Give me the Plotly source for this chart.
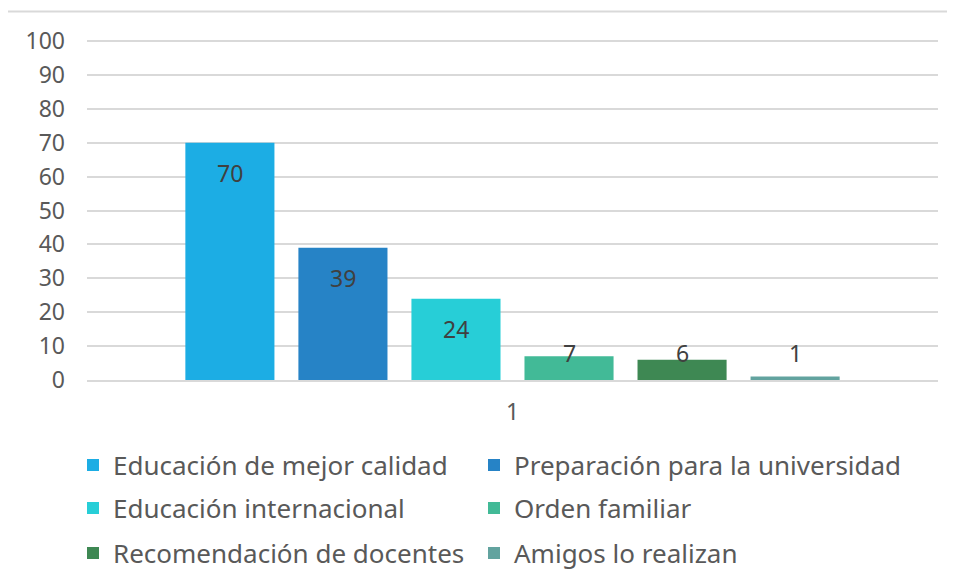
import plotly.graph_objects as go

categories = ["1"]
series_names = [
    "Educación de mejor calidad",
    "Preparación para la universidad",
    "Educación internacional",
    "Orden familiar",
    "Recomendación de docentes",
    "Amigos lo realizan",
]
series_values = [70, 39, 24, 7, 6, 1]
colors = ["#1CADE4", "#2683C6", "#27CED7", "#42BA97", "#3E8853", "#62A39F"]
y_ticks = [0, 10, 20, 30, 40, 50, 60, 70, 80, 90, 100]

OFF = 8  # page body margin
W, H = 955 - OFF, 583 - OFF
L, R, T, B = 87 - OFF, 17, 41 - OFF - 1, 203
pw, ph = W - L - R, H - T - B
FONT = "Noto Sans"
BARGAP = 0.203
GROUPGAP = 0.212
Y_MAX = 100.3

fig = go.Figure()
for k, (name, val, col) in enumerate(zip(series_names, series_values, colors)):
    fig.add_trace(go.Bar(
        x=categories, y=[val], name=name, marker_color=col,
        marker_line_width=0, legend="legend" if k == 0 else f"legend{k + 1}",
        hoverinfo="skip",
    ))

# data labels (Excel "inside end")
n = len(series_values)
slot = (1 - BARGAP) / n
for i, val in enumerate(series_values):
    xc = -(1 - BARGAP) / 2 + (i + 0.5) * slot
    if val * ph / 100 > 45:
        ann = dict(y=val, yanchor="top", yshift=-12)
    else:
        ann = dict(y=0, yanchor="bottom", yshift=9)
    fig.add_annotation(x=xc, xref="x", yref="y", text=str(val), showarrow=False,
                       font=dict(family=FONT, size=23, color="#404040"), **ann)


def px_x(x):
    return (x - OFF - L) / pw


def px_y(y):
    return (H - B - (y - OFF)) / ph


# outer chart border
fig.add_shape(type="rect", xref="paper", yref="paper",
              x0=px_x(7), x1=px_x(1000), y0=px_y(640), y1=px_y(11.5),
              line=dict(color="#D9D9D9", width=2), fillcolor="rgba(0,0,0,0)", layer="below")

# legend: 2 columns x 3 rows, one legend box per entry
col_x = [73, 474]
row_y = [465, 508, 553]
legends = {}
for k in range(n):
    key = "legend" if k == 0 else f"legend{k + 1}"
    legends[key] = dict(orientation="h", xanchor="left", yanchor="middle",
                        x=px_x(col_x[k % 2]), y=px_y(row_y[k // 2]),
                        font=dict(family=FONT, size=26, color="#595959"),
                        bgcolor="rgba(0,0,0,0)")

fig.update_layout(
    width=W, height=H,
    margin=dict(l=L, r=R, t=T, b=B, autoexpand=False),
    paper_bgcolor="white", plot_bgcolor="white",
    barmode="group", bargap=BARGAP, bargroupgap=GROUPGAP,
    showlegend=True,
    **legends,
    xaxis=dict(type="category", showgrid=False, showline=True, linecolor="#D9D9D9",
               linewidth=2, ticks="", ticklabelstandoff=10,
               tickfont=dict(family=FONT, size=23, color="#595959")),
    yaxis=dict(range=[0, Y_MAX], tickvals=y_ticks, showgrid=True, gridcolor="#D9D9D9",
               gridwidth=1.5, zeroline=False, showline=False, ticks="",
               ticklabelstandoff=21,
               tickfont=dict(family=FONT, size=23, color="#595959")),
)

fig.write_html("out.html")
